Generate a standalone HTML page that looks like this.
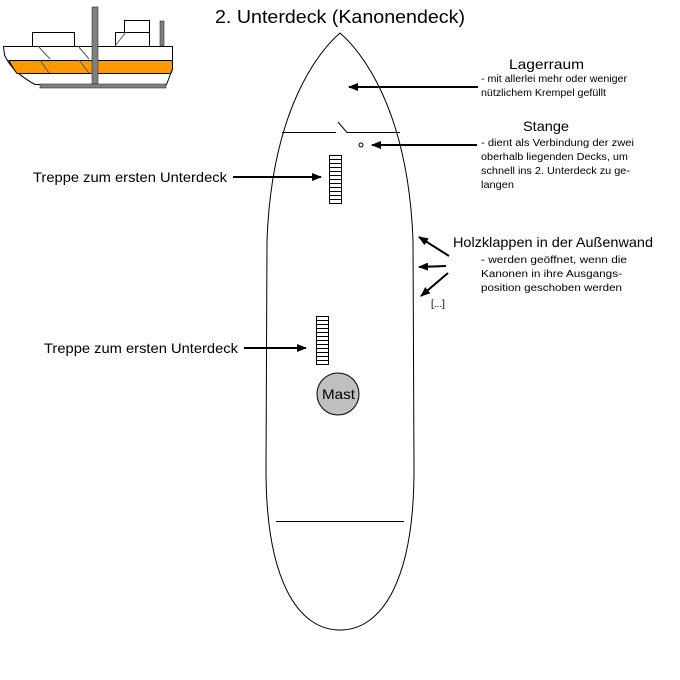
<!DOCTYPE html>
<html><head><meta charset="utf-8"><style>
html,body{margin:0;padding:0;background:#fff}
svg{display:block}
text{font-family:"Liberation Sans",Arial,sans-serif;fill:#000}
</style></head><body>
<svg width="680" height="680" viewBox="0 0 680 680" xmlns="http://www.w3.org/2000/svg">
<defs>
<marker id="ah" markerWidth="10" markerHeight="8" refX="9" refY="4" orient="auto" markerUnits="userSpaceOnUse">
<path d="M0,0 L10,4 L0,8 Z" fill="#000"/>
</marker>
</defs>
<g stroke="#000" stroke-width="1">
<rect x="32.5" y="32.5" width="42" height="14" fill="#fff"/>
<rect x="115.5" y="32.5" width="34" height="14" fill="#fff"/>
<rect x="124.5" y="20.5" width="25" height="12" fill="#fff"/>
<path d="M3.5,46.5 L172.5,46.5 L172.5,69 L166.5,84.5 L35,84.5 Q12,72 4.5,55 Z" fill="#fff"/>
<path d="M9,60.5 L172.5,60.5 L172.5,69 L170.5,73.5 L17,73.5 Q12,67 9,60.5 Z" fill="#ff9900"/>
</g>
<g stroke="#555" stroke-width="1">
<line x1="38" y1="46" x2="50" y2="59"/>
<line x1="40" y1="60" x2="49" y2="73"/>
<line x1="78" y1="46" x2="89" y2="59"/>
<line x1="79" y1="60" x2="89" y2="73"/>
<line x1="115" y1="46" x2="126" y2="32"/>
</g>
<rect x="92" y="7" width="6" height="77" fill="#808080" stroke="#333" stroke-width="0.6"/>
<rect x="160" y="21" width="4" height="25" fill="#808080" stroke="#333" stroke-width="0.6"/>
<rect x="40" y="84" width="126" height="4" fill="#808080" stroke="#333" stroke-width="0.6"/>

<text x="215" y="23" font-size="18" textLength="250" lengthAdjust="spacingAndGlyphs">2. Unterdeck (Kanonendeck)</text>

<path d="M340,33 C318,52 272,110 267,240 L266,470 C266,580 298,630 340,630 C382,630 414,580 414,470 L413,240 C408,110 362,52 340,33 Z" fill="none" stroke="#000" stroke-width="1"/>
<path d="M282,132.5 L336,132.5 M338,122 L347,132.5 L400,132.5" fill="none" stroke="#000" stroke-width="1"/>
<line x1="276" y1="521.5" x2="404" y2="521.5" stroke="#000" stroke-width="1"/>
<circle cx="361" cy="145" r="2" fill="#fff" stroke="#000" stroke-width="1"/>

<g fill="#fff" stroke="#000" stroke-width="1">
<rect x="329.5" y="155.5" width="12" height="48"/>
<path d="M329.5,159.5h12M329.5,163.5h12M329.5,167.5h12M329.5,171.5h12M329.5,175.5h12M329.5,179.5h12M329.5,183.5h12M329.5,187.5h12M329.5,191.5h12M329.5,195.5h12M329.5,199.5h12"/>
<rect x="316.5" y="316.5" width="12" height="48"/>
<path d="M316.5,320.5h12M316.5,324.5h12M316.5,328.5h12M316.5,332.5h12M316.5,336.5h12M316.5,340.5h12M316.5,344.5h12M316.5,348.5h12M316.5,352.5h12M316.5,356.5h12M316.5,360.5h12"/>
</g>

<circle cx="338" cy="394" r="21" fill="#c0c0c0" stroke="#000" stroke-width="1"/>
<text x="322" y="399" font-size="14" textLength="33" lengthAdjust="spacingAndGlyphs">Mast</text>

<g stroke="#000" stroke-width="2" marker-end="url(#ah)">
<line x1="478" y1="87" x2="349" y2="87"/>
<line x1="477" y1="145" x2="372" y2="145"/>
<line x1="233" y1="177" x2="321" y2="177"/>
<line x1="244" y1="348" x2="306" y2="348"/>
<line x1="449" y1="256" x2="419" y2="237"/>
<line x1="446" y1="266" x2="419" y2="267"/>
<line x1="448" y1="273" x2="421" y2="296"/>
</g>

<text x="509" y="69" font-size="14" textLength="75" lengthAdjust="spacingAndGlyphs">Lagerraum</text>
<text x="481" y="82" font-size="10" textLength="146" lengthAdjust="spacingAndGlyphs">- mit allerlei mehr oder weniger</text>
<text x="481" y="96" font-size="10" textLength="125" lengthAdjust="spacingAndGlyphs">nützlichem Krempel gefüllt</text>
<text x="523" y="131" font-size="14" textLength="46" lengthAdjust="spacingAndGlyphs">Stange</text>
<text x="481" y="146" font-size="10" textLength="153" lengthAdjust="spacingAndGlyphs">- dient als Verbindung der zwei</text>
<text x="481" y="160" font-size="10" textLength="147" lengthAdjust="spacingAndGlyphs">oberhalb liegenden Decks, um</text>
<text x="481" y="174" font-size="10" textLength="149" lengthAdjust="spacingAndGlyphs">schnell ins 2. Unterdeck zu ge-</text>
<text x="481" y="188" font-size="10" textLength="33" lengthAdjust="spacingAndGlyphs">langen</text>
<text x="33" y="182" font-size="14" textLength="194" lengthAdjust="spacingAndGlyphs">Treppe zum ersten Unterdeck</text>
<text x="44" y="353" font-size="14" textLength="194" lengthAdjust="spacingAndGlyphs">Treppe zum ersten Unterdeck</text>
<text x="453" y="247" font-size="14" textLength="200" lengthAdjust="spacingAndGlyphs">Holzklappen in der Außenwand</text>
<text x="481" y="263" font-size="10" textLength="146" lengthAdjust="spacingAndGlyphs">- werden geöffnet, wenn die</text>
<text x="481" y="277" font-size="10" textLength="141" lengthAdjust="spacingAndGlyphs">Kanonen in ihre Ausgangs-</text>
<text x="481" y="291" font-size="10" textLength="141" lengthAdjust="spacingAndGlyphs">position geschoben werden</text>
<text x="431" y="307" font-size="10">[...]</text>
</svg>
</body></html>
